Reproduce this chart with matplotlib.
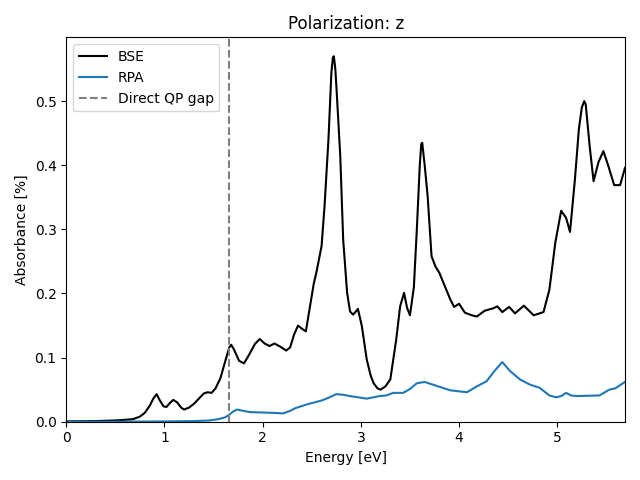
import numpy as np
import matplotlib
matplotlib.use('Agg')
import matplotlib.pyplot as plt

# values
bse_e = [0.0, 0.3, 0.5, 0.6, 0.68, 0.75, 0.8, 0.85, 0.89, 0.92, 0.95, 0.99, 1.02, 1.06, 1.09,
         1.13, 1.17, 1.20, 1.25, 1.30, 1.35, 1.40, 1.44, 1.48, 1.52, 1.57, 1.62, 1.66, 1.68, 1.71,
         1.76, 1.81, 1.86, 1.92, 1.97, 2.02, 2.07, 2.12, 2.18, 2.24, 2.28, 2.32, 2.36, 2.40,
         2.44, 2.48, 2.52, 2.55, 2.60, 2.63, 2.67, 2.70, 2.715, 2.725, 2.74, 2.75, 2.79, 2.82,
         2.86, 2.89, 2.92, 2.95, 2.97, 3.01, 3.06, 3.10, 3.13, 3.17, 3.20, 3.25, 3.30, 3.36,
         3.40, 3.44, 3.47, 3.50, 3.54, 3.57, 3.60, 3.615, 3.625, 3.65, 3.68, 3.72, 3.76, 3.80,
         3.84, 3.91, 3.95, 4.00, 4.06, 4.13, 4.18, 4.26, 4.35, 4.39, 4.44, 4.51, 4.57, 4.66,
         4.76, 4.86, 4.92, 4.98, 5.04, 5.09, 5.13, 5.18, 5.22, 5.25, 5.275, 5.29, 5.33, 5.37,
         5.42, 5.47, 5.52, 5.58, 5.64, 5.69]
bse_a = [0.0005, 0.001, 0.002, 0.003, 0.004, 0.008, 0.014, 0.025, 0.037, 0.043, 0.034, 0.024,
         0.023, 0.030, 0.034, 0.030, 0.022, 0.019, 0.022, 0.028, 0.036, 0.044, 0.046, 0.045,
         0.052, 0.068, 0.095, 0.116, 0.120, 0.112, 0.095, 0.091, 0.104, 0.121, 0.129, 0.122,
         0.118, 0.122, 0.117, 0.111, 0.116, 0.136, 0.150, 0.145, 0.141, 0.178, 0.215, 0.235,
         0.274, 0.336, 0.440, 0.545, 0.568, 0.570, 0.550, 0.525, 0.415, 0.284, 0.201, 0.172,
         0.167, 0.172, 0.176, 0.149, 0.097, 0.072, 0.060, 0.052, 0.050, 0.055, 0.066, 0.128,
         0.180, 0.201, 0.178, 0.166, 0.210, 0.300, 0.400, 0.433, 0.435, 0.400, 0.352, 0.258,
         0.242, 0.232, 0.217, 0.191, 0.179, 0.184, 0.170, 0.166, 0.164, 0.173, 0.177, 0.180,
         0.171, 0.179, 0.169, 0.181, 0.166, 0.171, 0.206, 0.279, 0.329, 0.318, 0.296, 0.378,
         0.456, 0.490, 0.500, 0.495, 0.430, 0.375, 0.405, 0.422, 0.399, 0.369, 0.369, 0.396]

rpa_e = [0.0, 0.5, 1.0, 1.30, 1.46, 1.55, 1.62, 1.66, 1.70, 1.74, 1.80, 1.87, 2.08, 2.21, 2.28,
         2.33, 2.45, 2.60, 2.68, 2.75, 2.82, 2.89, 3.06, 3.19, 3.26, 3.33, 3.43, 3.50, 3.57,
         3.65, 3.77, 3.91, 4.08, 4.18, 4.28, 4.36, 4.44, 4.52, 4.62, 4.72, 4.82, 4.92, 4.99,
         5.04, 5.09, 5.14, 5.20, 5.43, 5.53, 5.59, 5.69]
rpa_a = [0.0, 0.0, 0.0005, 0.001, 0.002, 0.004, 0.007, 0.011, 0.016, 0.019, 0.017, 0.015,
         0.014, 0.013, 0.017, 0.021, 0.027, 0.033, 0.038, 0.043, 0.042, 0.040, 0.036, 0.040,
         0.041, 0.045, 0.045, 0.051, 0.060, 0.062, 0.056, 0.049, 0.046, 0.055, 0.063, 0.079,
         0.093, 0.079, 0.066, 0.058, 0.053, 0.041, 0.038, 0.040, 0.045, 0.041, 0.040, 0.041,
         0.050, 0.052, 0.062]

qp_gap = 1.66

fig, ax = plt.subplots(figsize=(6.4, 4.8), dpi=100)
ax.plot(bse_e, bse_a, color='black', label='BSE')
ax.plot(rpa_e, rpa_a, color='C0', label='RPA')
ax.axvline(qp_gap, color='gray', linestyle='--', label='Direct QP gap')
ax.set_xlim(0, 5.69)
ax.set_ylim(0, 0.5995)
ax.set_xlabel('Energy [eV]')
ax.set_ylabel('Absorbance [%]')
ax.set_title('Polarization: z')
ax.legend(loc='upper left')
fig.tight_layout()
fig.savefig('out.png')
